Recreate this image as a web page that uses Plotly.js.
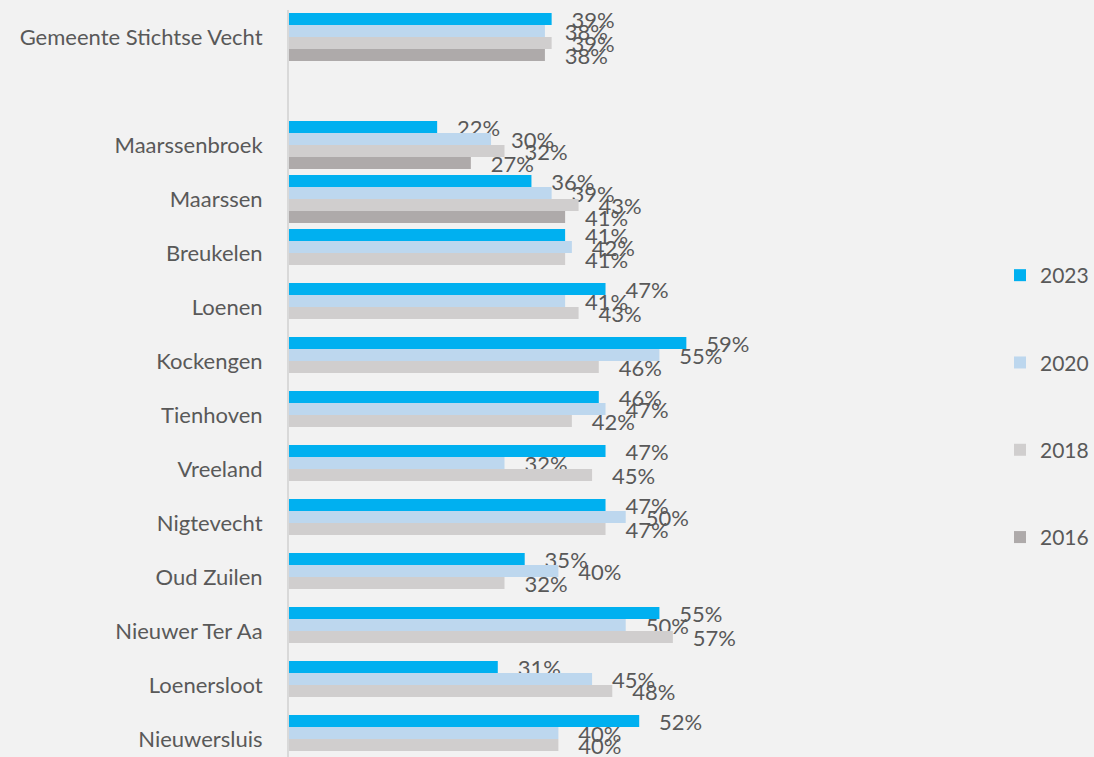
<!DOCTYPE html>
<html>
<head>
<meta charset="utf-8">
<script src="https://cdn.plot.ly/plotly-3.0.1.min.js"></script>
<style>html,body{margin:0;padding:0;background:#F2F2F2;}#chart{width:1094px;height:757px;}</style>
</head>
<body>
<div id="chart"></div>
<script>
var categories = ["Gemeente Stichtse Vecht", " ", "Maarssenbroek", "Maarssen", "Breukelen", "Loenen", "Kockengen", "Tienhoven", "Vreeland", "Nigtevecht", "Oud Zuilen", "Nieuwer Ter Aa", "Loenersloot", "Nieuwersluis"];
var seriesNames = ["2023", "2020", "2018", "2016"];
var v2023 = [39, null, 22, 36, 41, 47, 59, 46, 47, 47, 35, 55, 31, 52];
var v2020 = [38, null, 30, 39, 42, 41, 55, 47, 32, 50, 40, 50, 45, 40];
var v2018 = [39, null, 32, 43, 41, 43, 46, 42, 45, 47, 32, 57, 48, 40];
var v2016 = [38, null, 27, 41, null, null, null, null, null, null, null, null, null, null];
var colors = ["#00B0F0", "#BDD7EE", "#D0CECE", "#AEAAAA"];

var allValues = [v2023, v2020, v2018, v2016];
var FONT = "Lato, 'Open Sans', sans-serif";
var traces = allValues.map(function (vals, i) {
  return {
    type: "bar",
    orientation: "h",
    name: seriesNames[i],
    legendgroup: seriesNames[i],
    y: categories,
    x: vals,
    marker: { color: colors[i], line: { width: 0 } },
    texttemplate: "\u00A0\u00A0\u00A0%{x}%",
    textposition: "outside",
    constraintext: "none",
    cliponaxis: false,
    textfont: { family: FONT, size: 22, color: "#595959" },
    hoverinfo: "skip"
  };
});

var layout = {
  width: 1094,
  height: 757,
  paper_bgcolor: "#F2F2F2",
  plot_bgcolor: "#F2F2F2",
  font: { family: FONT, color: "#595959", size: 21 },
  margin: { l: 289, r: 129, t: 10, b: 0, pad: 0 },
  barmode: "group",
  bargap: 0.111,
  bargroupgap: 0,
  showlegend: true,
  legend: {
    x: 1.078, xanchor: "left",
    y: 0.672, yanchor: "top",
    traceorder: "grouped",
    tracegroupgap: 57,
    font: { family: FONT, size: 21, color: "#595959" },
    bgcolor: "rgba(0,0,0,0)",
    itemclick: false
  },
  xaxis: {
    range: [0, 98],
    showgrid: false,
    zeroline: false,
    showticklabels: false,
    ticks: "",
    showline: false,
    fixedrange: true
  },
  yaxis: {
    type: "category",
    categoryorder: "array",
    categoryarray: categories,
    range: [13.333, -0.5],
    showgrid: false,
    zeroline: false,
    ticks: "",
    ticklabelstandoff: 20,
    showline: true,
    linecolor: "#D9D9D9",
    linewidth: 2,
    tickfont: { family: FONT, size: 22, color: "#595959" },
    fixedrange: true
  },
  hovermode: false
};

Plotly.newPlot("chart", traces, layout, { displayModeBar: false, staticPlot: true });
</script>
</body>
</html>
